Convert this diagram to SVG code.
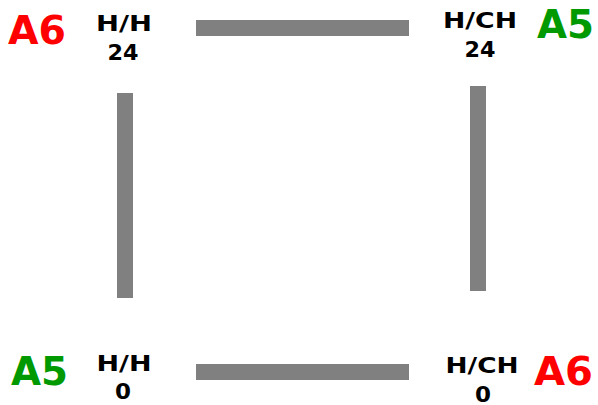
<svg xmlns="http://www.w3.org/2000/svg" width="598" height="405" viewBox="0 0 598 405">
<style>
.bar{fill:#808080}
.lbl{font-family:"DejaVu Sans",sans-serif;font-weight:bold;font-size:22px;fill:#000;text-anchor:middle}
.big{font-family:"DejaVu Sans",sans-serif;font-weight:bold;font-size:39px}
.red{fill:#ff0000}
.green{fill:#009900}
</style>
<rect width="598" height="405" fill="#fff"/>
<g id="connectors">
<rect class="bar" x="196" y="20" width="213" height="16"/>
<rect class="bar" x="117" y="93" width="16" height="205"/>
<rect class="bar" x="470" y="86" width="16" height="205"/>
<rect class="bar" x="196" y="364" width="213" height="16"/>
</g>
<g id="node-hh24">
<text class="big red" x="8" y="44" textLength="58" lengthAdjust="spacingAndGlyphs">A6</text>
<text class="lbl" x="124" y="31" textLength="56" lengthAdjust="spacingAndGlyphs">H/H</text>
<text class="lbl" x="123" y="60" textLength="31" lengthAdjust="spacingAndGlyphs">24</text>
</g>
<g id="node-hch24">
<text class="big green" x="537" y="38" textLength="57" lengthAdjust="spacingAndGlyphs">A5</text>
<text class="lbl" x="480" y="28" textLength="74" lengthAdjust="spacingAndGlyphs">H/CH</text>
<text class="lbl" x="480" y="57" textLength="31" lengthAdjust="spacingAndGlyphs">24</text>
</g>
<g id="node-hh0">
<text class="big green" x="11" y="385" textLength="57" lengthAdjust="spacingAndGlyphs">A5</text>
<text class="lbl" x="124" y="371" textLength="55" lengthAdjust="spacingAndGlyphs">H/H</text>
<text class="lbl" x="123" y="399" textLength="16" lengthAdjust="spacingAndGlyphs">0</text>
</g>
<g id="node-hch0">
<text class="big red" x="534" y="385" textLength="59" lengthAdjust="spacingAndGlyphs">A6</text>
<text class="lbl" x="482" y="373" textLength="73" lengthAdjust="spacingAndGlyphs">H/CH</text>
<text class="lbl" x="483" y="402" textLength="16" lengthAdjust="spacingAndGlyphs">0</text>
</g>
</svg>
